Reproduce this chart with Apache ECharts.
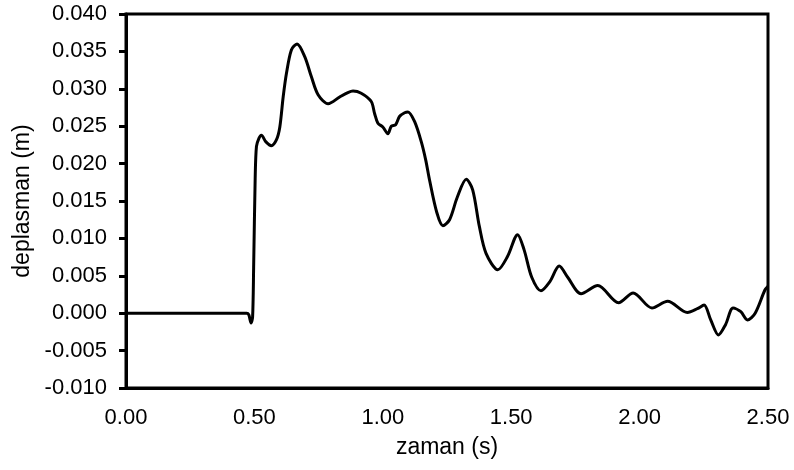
<!DOCTYPE html>
<html>
<head>
<meta charset="utf-8">
<script src="https://cdn.jsdelivr.net/npm/echarts@6/dist/echarts.min.js"></script>
<style>
html,body{margin:0;padding:0;background:#fff;}
#chart{width:794px;height:470px;}
</style>
</head>
<body>
<div id="chart"></div>
<script>
// time (s)
var timeValues = [0, 0.47, 0.478, 0.487, 0.493, 0.497, 0.503, 0.508, 0.518, 0.527, 0.545, 0.566, 0.586, 0.599, 0.612, 0.625, 0.644, 0.666, 0.696, 0.722, 0.748, 0.787, 0.832, 0.864, 0.884, 0.916, 0.955, 0.968, 0.981, 1.000, 1.020, 1.033, 1.050, 1.065, 1.085, 1.098, 1.124, 1.150, 1.167, 1.182, 1.210, 1.234, 1.260, 1.290, 1.325, 1.350, 1.376, 1.402, 1.448, 1.486, 1.525, 1.550, 1.580, 1.616, 1.650, 1.687, 1.720, 1.772, 1.837, 1.918, 1.975, 2.048, 2.109, 2.186, 2.225, 2.251, 2.277, 2.307, 2.335, 2.364, 2.394, 2.420, 2.450, 2.488, 2.500];
// displacement (m)
var dispValues = [0, 0, -0.0002, -0.0013, -0.0005, 0.006, 0.018, 0.0223, 0.0234, 0.0238, 0.0229, 0.0224, 0.0232, 0.0249, 0.0289, 0.0321, 0.0352, 0.0360, 0.0343, 0.0316, 0.0292, 0.0280, 0.0289, 0.0295, 0.0297, 0.0294, 0.0283, 0.0267, 0.0254, 0.0249, 0.0240, 0.0250, 0.0252, 0.0263, 0.0268, 0.0269, 0.0256, 0.0229, 0.0205, 0.0178, 0.0135, 0.0117, 0.0125, 0.0155, 0.0179, 0.0165, 0.0116, 0.0080, 0.0058, 0.0076, 0.0105, 0.0085, 0.0048, 0.0030, 0.0042, 0.0063, 0.0048, 0.0026, 0.0037, 0.0014, 0.0027, 0.0007, 0.0016, 0.0001, 0.0006, 0.0011, -0.0009, -0.0029, -0.0015, 0.0007, 0.0002, -0.0009, 0.0000, 0.0031, 0.0036];
var xTitle = 'zaman (s)';
var yTitle = 'deplasman (m)';

var points = timeValues.map(function (t, i) { return [t, dispValues[i]]; });

var chart = echarts.init(document.getElementById('chart'));
var font = '"Liberation Sans", Arial, sans-serif';
chart.setOption({
  animation: false,
  backgroundColor: '#fff',
  grid: {
    left: 126, right: 26, top: 14, bottom: 82,
    show: true, borderColor: '#000', borderWidth: 3, backgroundColor: 'transparent'
  },
  xAxis: {
    type: 'value', min: 0, max: 2.5, interval: 0.5,
    name: xTitle, nameLocation: 'middle', nameGap: 48,
    nameTextStyle: { fontFamily: font, fontSize: 23, color: '#000' },
    axisLine: { onZero: false, lineStyle: { color: '#000', width: 3 } },
    axisTick: { show: false },
    splitLine: { show: false },
    axisLabel: { fontFamily: font, fontSize: 22, color: '#000', margin: 19,
      formatter: function (v) { return v.toFixed(2); } }
  },
  yAxis: {
    type: 'value', min: -0.01, max: 0.04, interval: 0.005,
    name: yTitle, nameLocation: 'middle', nameGap: 92,
    nameTextStyle: { fontFamily: font, fontSize: 23, color: '#000' },
    axisLine: { onZero: false, lineStyle: { color: '#000', width: 3 } },
    axisTick: { show: true, inside: false, length: 7, lineStyle: { color: '#000', width: 3 } },
    splitLine: { show: false },
    axisLabel: { fontFamily: font, fontSize: 22, color: '#000', margin: 19,
      formatter: function (v) { return v.toFixed(3); } }
  },
  series: [{
    type: 'line',
    data: points,
    smooth: 0.3,
    symbol: 'none',
    lineStyle: { color: '#000', width: 3 }
  }]
});
</script>
</body>
</html>
